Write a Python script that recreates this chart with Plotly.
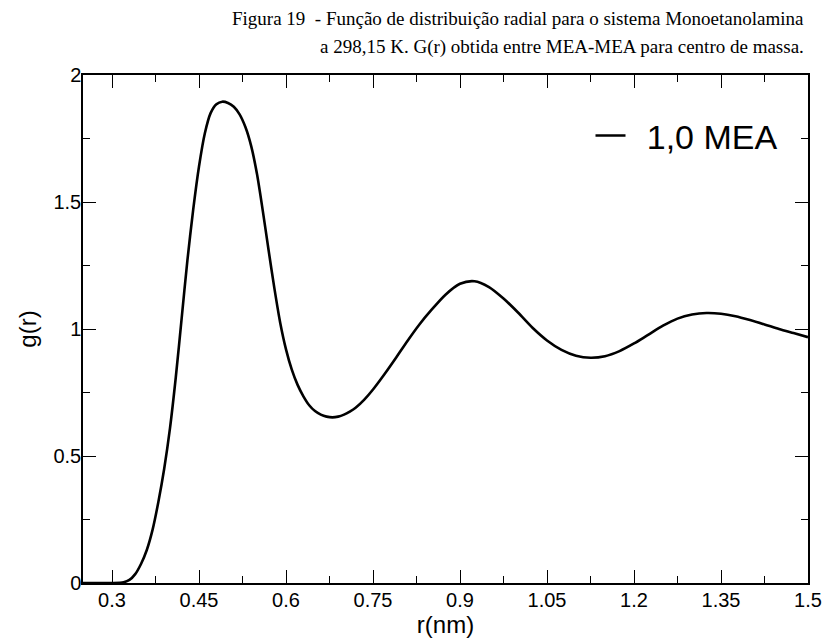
import plotly.graph_objects as go

r_nm = [0.25, 0.30, 0.32, 0.33, 0.34, 0.35, 0.36, 0.37, 0.38, 0.39, 0.40, 0.41, 0.42, 0.43,
        0.44, 0.45, 0.46, 0.47, 0.48, 0.49, 0.50, 0.51, 0.52, 0.53, 0.54, 0.55, 0.56, 0.57,
        0.58, 0.59, 0.60, 0.61, 0.62, 0.63, 0.64, 0.65, 0.66, 0.67, 0.68, 0.69, 0.70,
        0.71, 0.72, 0.735, 0.75, 0.77, 0.79, 0.81, 0.83, 0.85, 0.875, 0.90, 0.925, 0.95,
        0.975, 1.00, 1.025, 1.05, 1.075, 1.10, 1.125, 1.15, 1.175, 1.20, 1.225, 1.25,
        1.275, 1.30, 1.325, 1.35, 1.375, 1.40, 1.425, 1.45, 1.475, 1.50]
g_r = [0.0, 0.0, 0.003, 0.012, 0.035, 0.075, 0.13, 0.21, 0.32, 0.45, 0.61, 0.81, 1.04, 1.27,
       1.47, 1.64, 1.77, 1.85, 1.885, 1.895, 1.89, 1.875, 1.845, 1.795, 1.72, 1.61, 1.465, 1.31,
       1.16, 1.025, 0.92, 0.84, 0.78, 0.735, 0.70, 0.677, 0.663, 0.655, 0.652, 0.655, 0.663,
       0.675, 0.69, 0.722, 0.762, 0.823, 0.888, 0.955, 1.018, 1.073, 1.135, 1.178, 1.188, 1.165,
       1.12, 1.065, 1.005, 0.955, 0.918, 0.895, 0.887, 0.893, 0.913, 0.943, 0.978, 1.013,
       1.041, 1.057, 1.063, 1.06, 1.05, 1.035, 1.018, 1.0, 0.984, 0.968]

x_ticks = [0.3, 0.45, 0.6, 0.75, 0.9, 1.05, 1.2, 1.35, 1.5]
x_labels = ["0.3", "0.45", "0.6", "0.75", "0.9", "1.05", "1.2", "1.35", "1.5"]
y_ticks = [0, 0.5, 1, 1.5, 2]
y_labels = ["0", "0.5", "1", "1.5", "2"]

title_lines = ["Figura 19  - Função de distribuição radial para o sistema Monoetanolamina",
               "a 298,15 K. G(r) obtida entre MEA-MEA para centro de massa."]

fig = go.Figure()
fig.add_trace(go.Scatter(x=r_nm, y=g_r, mode="lines", name="\u00a0\u20091,0 MEA",
                         line=dict(color="black", width=2.6, shape="spline", smoothing=0.8)))

axis_common = dict(showgrid=False, zeroline=False, showline=True, linecolor="black",
                   linewidth=1.5, mirror="allticks", ticks="inside", ticklen=13,
                   tickwidth=1.2, tickcolor="black", automargin=False,
                   tickfont=dict(family="Liberation Sans", size=20, color="black"))

fig.update_xaxes(range=[0.25, 1.5], tickvals=x_ticks, ticktext=x_labels, ticklabelstandoff=-2,
                 minor=dict(ticks="inside", ticklen=7, tickwidth=1.2, tickcolor="black", dtick=0.075, tick0=0.225),
                 title=dict(text="r(nm)", font=dict(family="Liberation Sans", size=24, color="black"), standoff=2),
                 **axis_common)
fig.update_yaxes(range=[0, 2], tickvals=y_ticks, ticktext=y_labels, ticklabelstandoff=-4,
                 minor=dict(ticks="inside", ticklen=7, tickwidth=1.2, tickcolor="black", dtick=0.25, tick0=0),
                 title=dict(text="g(r)", font=dict(family="Liberation Sans", size=24, color="black"), standoff=10),
                 **axis_common)

for line_text, ypos in zip(title_lines, [1.1122, 1.0551]):
    fig.add_annotation(xref="paper", yref="paper", x=0.9972, y=ypos, xanchor="right", yanchor="middle",
                       showarrow=False, text=line_text,
                       font=dict(family="Liberation Serif", size=19, color="black"))

fig.update_layout(width=833, height=640, plot_bgcolor="white", paper_bgcolor="white",
                  margin=dict(l=83, r=25, t=75, b=57, autoexpand=False),
                  showlegend=True,
                  legend=dict(x=0.700, y=0.88, xanchor="left", yanchor="middle", bgcolor="rgba(0,0,0,0)",
                              borderwidth=0,
                              font=dict(family="Liberation Sans", size=34, color="black")))

fig.write_html("out.html", config={"displayModeBar": False},
               post_script="document.body.style.margin='0px';document.body.style.overflow='hidden';")
